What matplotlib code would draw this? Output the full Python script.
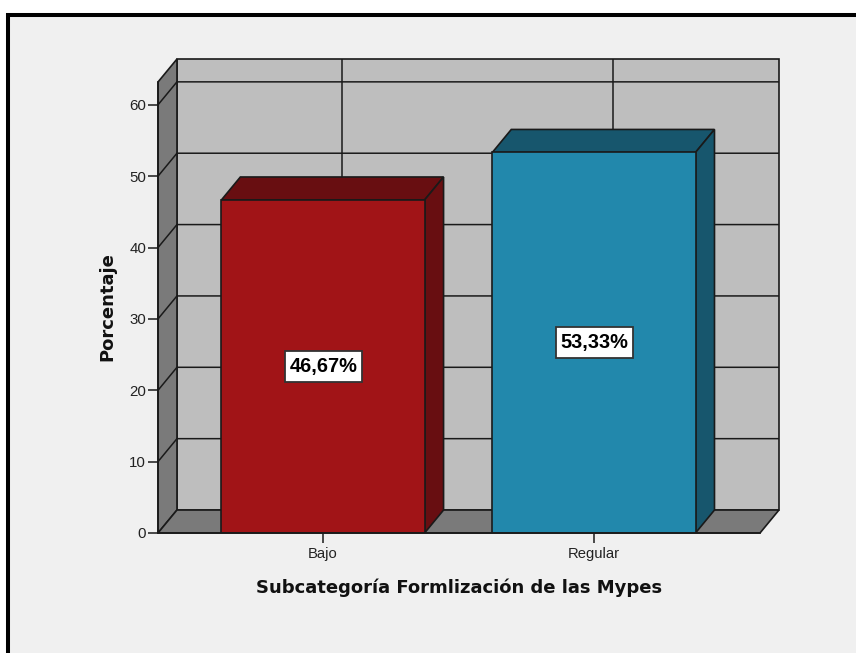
import matplotlib
matplotlib.use("Agg")
import matplotlib.pyplot as plt
from matplotlib.patches import Polygon, Rectangle
from matplotlib.lines import Line2D

categories = ["Bajo", "Regular"]
percentages = [46.67, 53.33]
value_labels = ["46,67%", "53,33%"]
y_ticks = [0, 10, 20, 30, 40, 50, 60]

W, H = 856, 653
BG = "#f0f0f0"
BACK = "#bebebe"
WALL = "#7a7a7a"
EDGE = "#1a1a1a"
front_colors = ["#a11417", "#2288ac"]
dark_colors = ["#680e11", "#17566d"]

# depth of the 3d box, in data units
ymax = 63.2
dx = 0.07
dy = 3.22
xmin, xmax = -0.609, 1.613
bar_w = 0.75
# value label box size, in data units
box_w = 0.284
box_h = 4.4

fig = plt.figure(figsize=(W / 100, H / 100), dpi=100, facecolor="white")

# page background and the black frame (top and left only), kept behind the axes
fig.add_artist(Rectangle((6 / W, 0), 1, 1 - 13 / H, transform=fig.transFigure, fc=BG, ec="none", zorder=-3))
fig.add_artist(Line2D([8 / W, 8 / W], [0, 1 - 13 / H], transform=fig.transFigure, color="black", lw=2.9,
                      solid_capstyle="butt", zorder=-2))
fig.add_artist(Line2D([6 / W, 1], [1 - 15 / H, 1 - 15 / H], transform=fig.transFigure, color="black", lw=2.9,
                      solid_capstyle="butt", zorder=-2))

ax = fig.add_axes([158 / W, 1 - 533 / H, 602 / W, 451 / H])
ax.set_xlim(xmin, xmax)
ax.set_ylim(0, ymax)
ax.patch.set_visible(False)
for s in ["top", "right"]:
    ax.spines[s].set_visible(False)
for s in ["left", "bottom"]:
    ax.spines[s].set_linewidth(1.2)
    ax.spines[s].set_color(EDGE)
    ax.spines[s].set_zorder(6)


def poly(pts, fc, z, lw=1.2):
    ax.add_patch(Polygon(pts, closed=True, fc=fc, ec=EDGE, lw=lw, zorder=z, clip_on=False))


def line(xs, ys, z=2, lw=1.1):
    ax.plot(xs, ys, color=EDGE, lw=lw, zorder=z, clip_on=False, solid_capstyle="butt")


# back wall, left wall, floor
poly([(xmin + dx, dy), (xmax + dx, dy), (xmax + dx, ymax + dy), (xmin + dx, ymax + dy)], BACK, 1)
poly([(xmin, 0), (xmin + dx, dy), (xmin + dx, ymax + dy), (xmin, ymax)], WALL, 1)
poly([(xmin, 0), (xmax, 0), (xmax + dx, dy), (xmin + dx, dy)], WALL, 1)

# grid lines on back and left wall
for t in y_ticks[1:]:
    line([xmin, xmin + dx, xmax + dx], [t, t + dy, t + dy])
for i in range(len(categories)):
    line([i + dx, i + dx], [dy, ymax + dy])

# bars
for i, v in enumerate(percentages):
    l, r = i - bar_w / 2, i + bar_w / 2
    poly([(l, v), (r, v), (r + dx, v + dy), (l + dx, v + dy)], dark_colors[i], 3)
    poly([(r, 0), (r + dx, dy), (r + dx, v + dy), (r, v)], dark_colors[i], 3)
    ax.bar(i, v, width=bar_w, color=front_colors[i], edgecolor=EDGE, linewidth=1.2, zorder=4)
    ax.add_patch(Rectangle((i + 0.002 - box_w / 2, v / 2 - box_h / 2), box_w, box_h,
                           fc="white", ec="#333333", lw=1.3, zorder=7))
    ax.text(i + 0.002, v / 2 + 0.05, value_labels[i], ha="center", va="center", fontsize=14.4,
            fontweight="bold", family="Liberation Sans", color="black", zorder=8)

ax.set_xticks(range(len(categories)))
ax.set_xticklabels(categories, family="Liberation Sans", fontsize=10.6, color="#222222")
ax.set_yticks(y_ticks)
ax.set_yticklabels([str(t) for t in y_ticks], family="Liberation Sans", fontsize=10.8, color="#222222")
ax.tick_params(axis="both", length=7, width=1.1, color=EDGE, pad=1.5)
ax.tick_params(axis="x", pad=3)

fig.text(459 / W, 1 - 588 / H, "Subcategoría Formlización de las Mypes", ha="center", va="center",
         fontsize=12.95, fontweight="bold", family="DejaVu Sans", color="#111111")
fig.text(107 / W, 1 - 307 / H, "Porcentaje", rotation=90, ha="center", va="center",
         fontsize=13, fontweight="bold", family="DejaVu Sans", color="#111111")

fig.savefig("out.png", dpi=100, facecolor=fig.get_facecolor())
